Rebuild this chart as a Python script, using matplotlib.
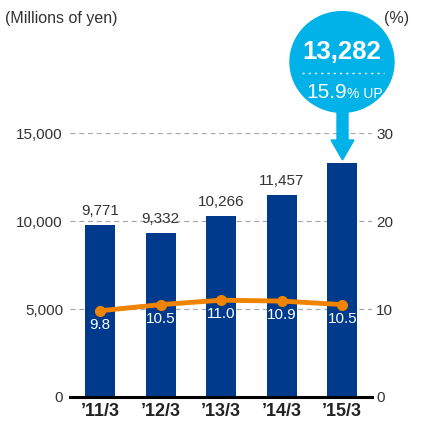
import matplotlib.pyplot as plt
from matplotlib.patches import Circle, Polygon
import numpy as np

plt.rcParams['font.family'] = ['Liberation Sans', 'DejaVu Sans']

# datos del grafico
periodos = ["\u201911/3", "\u201912/3", "\u201913/3", "\u201914/3", "\u201915/3"]
ventas = [9771, 9332, 10266, 11457, 13282]
margen = [9.8, 10.5, 11.0, 10.9, 10.5]
crecimiento = 15.9

azul = "#003A8C"
naranja = "#F08300"
celeste = "#00B2E8"
gris = "#333333"

fig = plt.figure(figsize=(4.37, 4.23), dpi=100)
ax = fig.add_axes([0.160, 0.0615, 0.691, 0.624])
x = np.arange(len(periodos))

ax.bar(x, ventas, width=0.5, color=azul, zorder=2)
ax.set_xlim(-0.5, 4.49)
ax.set_ylim(0, 15000)
ax.set_yticks([0, 5000, 10000, 15000])
ax.set_yticklabels(["0", "5,000", "10,000", "15,000"], fontsize=11, color=gris)
ax.set_xticks(x)
ax.set_xticklabels(periodos, fontsize=13, fontweight="bold", color="#222222")
ax.tick_params(axis="x", length=0, pad=4)
ax.tick_params(axis="y", length=0, pad=5)
for s in ["top", "left", "right"]:
    ax.spines[s].set_visible(False)
ax.spines["bottom"].set_linewidth(2.2)
ax.spines["bottom"].set_color("black")
ax.spines["bottom"].set_zorder(5)
for v in [5000, 10000, 15000]:
    ax.plot([-0.5, 4.49], [v, v], ls=(0, (4, 3)), color="#aaaaaa", lw=0.9, zorder=1)

# etiquetas sobre barras
for i, v in enumerate(ventas[:4]):
    ax.text(i, v + 400, "{:,}".format(v), ha="center", va="bottom", fontsize=11, color=gris)

# eje derecho con el margen
ax2 = ax.twinx()
ax2.set_ylim(0, 30)
ax2.set_yticks([0, 10, 20, 30])
ax2.set_yticklabels(["0", "10", "20", "30"], fontsize=11, color=gris)
ax2.tick_params(axis="y", length=0, pad=3)
for s in ["top", "left", "right", "bottom"]:
    ax2.spines[s].set_visible(False)
ax2.plot(x, margen, color=naranja, lw=3.5, marker="o", markersize=7, zorder=3)
for i, m in enumerate(margen):
    ax2.text(i, m - 0.8, "{:.1f}".format(m), ha="center", va="top", fontsize=11, color="white")

# textos de unidades
fig.text(5 / 437, 1 - 18 / 423, "(Millions of yen)", fontsize=11.5, color=gris, va="center")
fig.text(384 / 437, 1 - 18 / 423, "(%)", fontsize=11.5, color=gris, va="center")

# globo del ultimo año
cx, cy, r = 342, 62, 52
W, H = 437, 423
fx = lambda px: px / W
fy = lambda py: 1 - py / H
circ = Circle((fx(cx), fy(cy)), r / W, transform=fig.transFigure, color=celeste, zorder=10)
fig.patches.append(circ)
flecha = Polygon([(fx(337), fy(105)), (fx(348), fy(105)), (fx(348), fy(140)), (fx(354), fy(140)),
                  (fx(342.5), fy(160)), (fx(331), fy(140)), (fx(337), fy(140))],
                 closed=True, transform=fig.transFigure, color=celeste, zorder=9)
fig.patches.append(flecha)
fig.text(fx(cx), fy(52), "{:,}".format(ventas[-1]), ha="center", va="center",
         fontsize=18.5, fontweight="bold", color="white", zorder=11)
fig.lines.append(plt.Line2D([fx(302), fx(384)], [fy(73), fy(73)], transform=fig.transFigure,
                            color="white", lw=1, ls=(0, (1.5, 3)), zorder=11))
fig.text(fx(347), fy(92), "{}".format(crecimiento), ha="right", va="center",
         fontsize=15, color="white", zorder=11)
fig.text(fx(347), fy(94), "% UP", ha="left", va="center",
         fontsize=10, color="white", zorder=11)

plt.savefig("out.png", dpi=100)
